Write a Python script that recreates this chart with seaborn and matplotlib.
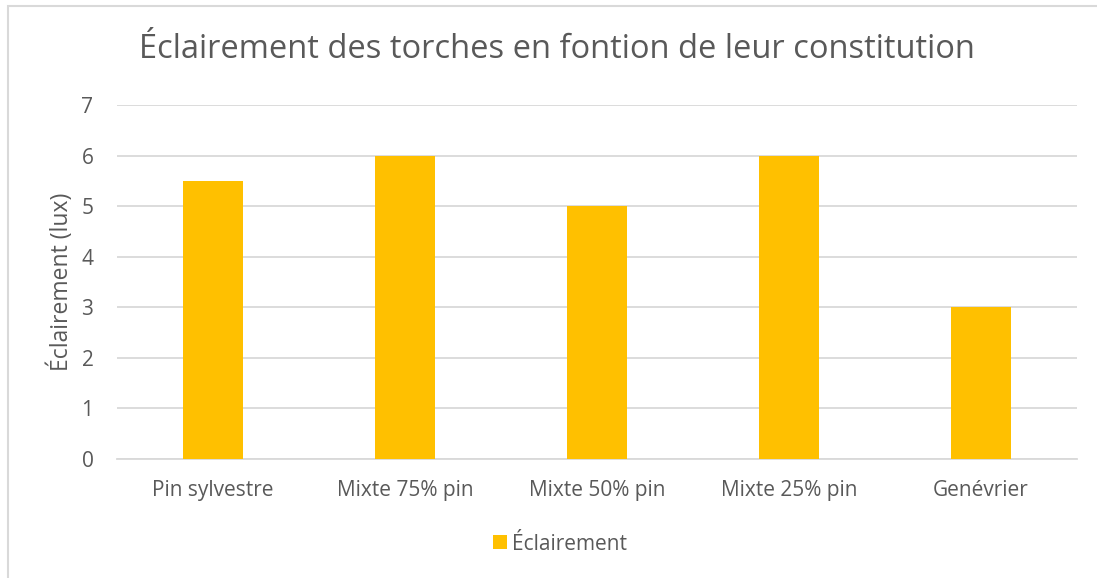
import matplotlib
matplotlib.use("Agg")
import matplotlib.pyplot as plt
import seaborn as sns
import pandas as pd
from matplotlib.patches import Rectangle

categories = ["Pin sylvestre", "Mixte 75% pin", "Mixte 50% pin", "Mixte 25% pin", "Genévrier"]
eclairement = [5.5, 6, 5, 6, 3]
y_ticks = [0, 1, 2, 3, 4, 5, 6, 7]

sns.set_theme(style="white")
plt.rcParams["font.family"] = ["Open Sans", "DejaVu Sans"]

text_color = "#595959"
grid_color = "#D9D9D9"
bar_color = "#FFC000"

df = pd.DataFrame({"Constitution": categories, "Éclairement": eclairement})

fig = plt.figure(figsize=(10.97, 5.78), dpi=100)
ax = fig.add_axes([117 / 1097, 1 - 459 / 578, 960 / 1097, 354 / 578])

sns.barplot(data=df, x="Constitution", y="Éclairement", color=bar_color,
            width=0.3125, saturation=1, ax=ax, label="Éclairement",
            linewidth=0, zorder=3)

ax.set_ylim(0, 7)
ax.set_yticks(y_ticks)
ax.set_xlim(-0.5, len(categories) - 0.5)
ax.yaxis.grid(True, color=grid_color, linewidth=1.3, zorder=0)
for side in ["top", "right", "left"]:
    ax.spines[side].set_visible(False)
ax.spines["bottom"].set_color(grid_color)
ax.spines["bottom"].set_linewidth(1.3)
ax.tick_params(axis="both", length=0, labelsize=15, colors=text_color)
ax.tick_params(axis="y", pad=17)
ax.tick_params(axis="x", pad=15)
ax.set_xlabel("")
ax.set_ylabel("Éclairement (lux)", fontsize=16.5, color=text_color, labelpad=5)

fig.text(557 / 1097, 1 - 50 / 578, "Éclairement des torches en fontion de leur constitution",
         ha="center", va="center", fontsize=23.5, color=text_color)

leg = ax.legend(loc="center", bbox_to_anchor=(560 / 1097, 1 - 544 / 578),
                bbox_transform=fig.transFigure, frameon=False, fontsize=15,
                handlelength=0.65, handleheight=0.65, handletextpad=0.25)
for t in leg.get_texts():
    t.set_color(text_color)

# chart area frame
fig.patches.append(Rectangle((8 / 1097, -0.05), 1.2, 1 - 6 / 578 + 0.05,
                             transform=fig.transFigure, fill=False,
                             edgecolor=grid_color, linewidth=1.5))

fig.savefig("out.png", dpi=100)
